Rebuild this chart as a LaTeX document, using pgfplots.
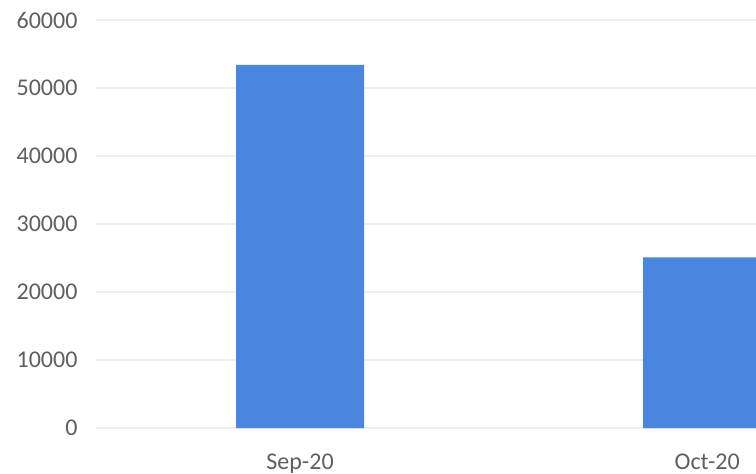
\documentclass[border=0pt]{standalone}
\usepackage{pgfplots}
\pgfplotsset{compat=1.18}
\usepackage{fontspec}
\setmainfont{Carlito}
\definecolor{barblue}{RGB}{74,134,224}
\definecolor{txt}{RGB}{95,95,95}
\definecolor{gridc}{RGB}{238,238,238}
\begin{document}
\begin{tikzpicture}
\begin{axis}[
  at={(0,0)}, anchor=south west,
  scale only axis, width=329.75pt, height=204pt,
  xmin=-0.5, xmax=1.12, ymin=0, ymax=60000,
  axis line style={draw=none},
  ytick={0,10000,20000,30000,40000,50000,60000},
  ymajorgrids, grid style={gridc, line width=0.6pt},
  xtick={0,1}, xticklabels={Sep-20,Oct-20},
  major tick length=0pt,
  tick label style={font=\fontsize{12}{14}\selectfont, text=txt},
  /pgf/number format/assume math mode=true,
  scaled y ticks=false,
  yticklabel style={/pgf/number format/1000 sep={}, xshift=-6pt},
  xticklabel style={yshift=-9.5pt},
]
\addplot[ybar, bar width=64pt, fill=barblue, draw=none] coordinates {(0,53400) (1,25100)};
\end{axis}
\pgfresetboundingbox
\path (-48.25pt,-22.5pt) rectangle (329.75pt,214pt);
\end{tikzpicture}
\end{document}
